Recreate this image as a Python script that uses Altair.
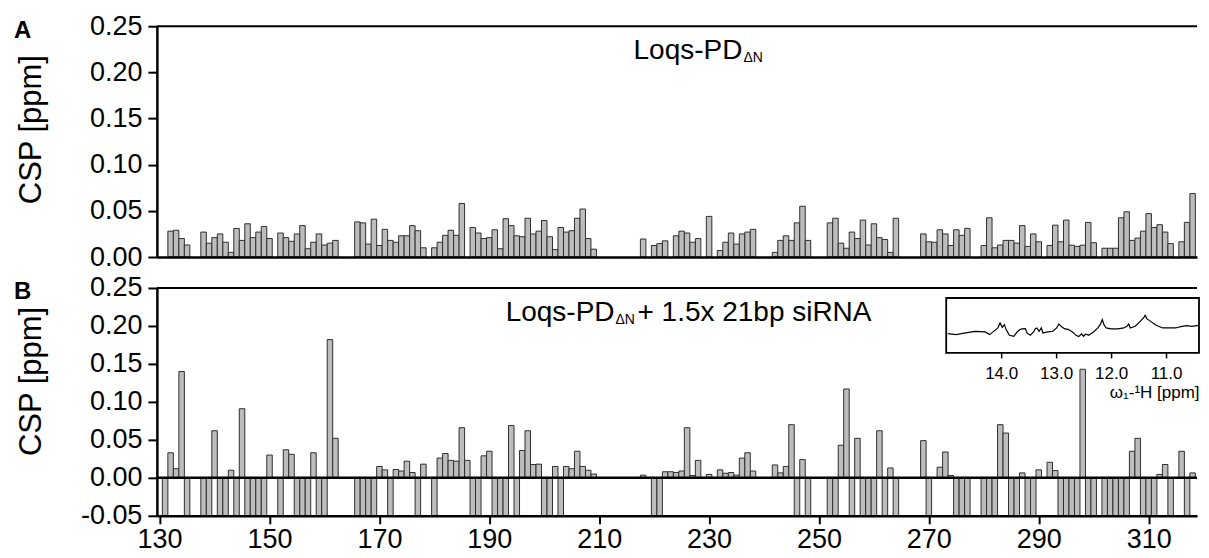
import altair as alt
import pandas as pd

X = -0.05  # residue whose amide peak vanished in the complex (bar drawn to the axis floor)

FIRST_RESIDUE = 131

# Panel A: CSP of free Loqs-PD dN, residues 131..318 (None = not assigned)
CSP_FREE = [
    None, .028, .029, .020, .013, None, None, .027, .015, .021,
    .025, .016, .005, .031, .018, .036, .021, .027, .033, .020,
    None, .026, .021, .017, .025, .034, .009, .016, .025, .013,
    .015, .018, None, None, None, .038, .037, .014, .041, .0125,
    .030, .018, .016, .023, .023, .034, .0285, .010, None, .010,
    .016, .0235, .029, .0235, .058, None, .032, .026, .020, .021,
    .0295, .009, .0415, .034, .023, .022, .042, .025, .028, .0395,
    .022, .008, .032, .027, .0285, .042, .052, .020, .0085, None,
    None, None, None, None, None, None, None, .0195, None, .0125,
    .0145, .0175, None, .023, .028, .026, .016, .020, None, .044,
    None, .007, .016, .026, .014, .025, .027, .030, None, None,
    None, .005, .018, .023, .018, .037, .055, .018, None, None,
    None, .037, .042, .015, .0095, .027, .020, .040, .013, .036,
    .021, .019, .005, .042, None, None, None, None, .025, .0165,
    .016, .0295, .025, .0125, .0295, .0235, .031, None, None, .0125,
    .0425, .010, .013, .018, .018, .015, .034, .0115, .025, .0165,
    None, .0125, .0345, .0165, .040, .0128, .0115, .0128, .0375, .0155,
    None, .0095, .0095, .0095, .0425, .049, .018, .0205, .028, .047,
    .032, .035, .027, .0145, None, .0165, .0375, .0687,
]

# Panel B: CSP with 1.5x 21bp siRNA, residues 131..318
CSP_COMPLEX = [
    X, .033, .012, .140, X, None, None, X, X, .062,
    X, X, .010, X, .091, X, X, X, X, .030,
    None, X, .037, .031, X, X, X, .033, X, X,
    .182, .052, None, None, None, X, X, X, X, .015,
    .0105, X, .011, .009, .022, .007, X, .018, None, X,
    .026, .032, .023, .022, .066, .023, X, X, .029, .035,
    X, X, X, .069, X, .036, .062, .0175, .018, X,
    X, .015, X, .015, .012, .035, .015, .010, .005, None,
    None, None, None, None, None, None, None, .0035, None, X,
    X, .008, .008, .007, .009, .066, .003, .023, None, .0045,
    None, .0105, .006, .007, .0035, .026, .033, .009, None, None,
    None, .017, .0065, .015, .070, X, .024, X, None, None,
    None, X, X, .043, .117, X, .052, X, X, X,
    .062, X, .013, X, None, None, None, None, .049, X,
    None, .014, .034, .003, X, X, X, None, None, X,
    X, X, .070, .059, X, X, .0065, X, X, .0105,
    None, .0205, .0095, X, X, X, X, .143, X, X,
    None, X, X, X, X, X, .035, .052, X, X,
    X, .0045, .0175, X, None, .035, X, .0065,
]

X_TICKS = [130, 150, 170, 190, 210, 230, 250, 270, 290, 310]
X_DOMAIN = [129.5, 318.8]
YA_TICKS = [0.00, 0.05, 0.10, 0.15, 0.20, 0.25]
YB_TICKS = [-0.05, 0.00, 0.05, 0.10, 0.15, 0.20, 0.25]

# Inset: 1D imino spectrum trace
INSET_PPM = [14.97, 14.82, 14.65, 14.47, 14.29, 14.21, 14.12, 14.06, 14.02, 13.98,
             13.94, 13.91, 13.85, 13.77, 13.71, 13.66, 13.62, 13.56, 13.53, 13.47,
             13.41, 13.38, 13.35, 13.31, 13.27, 13.24, 13.15, 13.06, 12.99, 12.95,
             12.91, 12.85, 12.77, 12.68, 12.64, 12.59, 12.54, 12.50, 12.46, 12.41,
             12.32, 12.24, 12.19, 12.16, 12.13, 12.09, 12.00, 11.88, 11.77, 11.71,
             11.68, 11.65, 11.56, 11.47, 11.41, 11.38, 11.35, 11.30, 11.18, 11.06,
             10.95, 10.83, 10.71, 10.62, 10.53, 10.41]
INSET_INT = [58, 55, 60, 65, 63, 55, 67, 75, 90, 77,
             85, 70, 53, 50, 63, 70, 72, 73, 60, 53,
             63, 73, 75, 65, 75, 60, 63, 65, 75, 87,
             80, 73, 70, 60, 53, 49, 57, 50, 57, 53,
             63, 75, 87, 100, 85, 75, 72, 72, 75, 80,
             87, 75, 80, 95, 105, 113, 103, 97, 83, 75,
             75, 75, 80, 82, 80, 83]
INSET_PPM_DOMAIN = [15.0, 10.4]
INSET_INT_DOMAIN = [0, 165]
INSET_TICKS = [14.0, 13.0, 12.0, 11.0]

FONT = "Liberation Sans"
W, HA, HB = 1041, 231, 228
BAR_FILL, BAR_STROKE = "#bdbdbd", "#2e2e2e"


def frame(vals):
    rows = [{"res": FIRST_RESIDUE + i, "v": v} for i, v in enumerate(vals) if v is not None]
    return pd.DataFrame(rows)


xs = alt.Scale(domain=X_DOMAIN, nice=False, zero=False)
ysA = alt.Scale(domain=[YA_TICKS[0], YA_TICKS[-1]], nice=False)
ysB = alt.Scale(domain=[YB_TICKS[0], YB_TICKS[-1]], nice=False)

minus_fix = "replace(replace(datum.label, '\u2212', '-'), '\u2013', '-')"


def yaxis(vals, title_y):
    return alt.Axis(values=vals, format=".2f", labelExpr=minus_fix, title="CSP [ppm]",
                    titleFontSize=31, titleFontWeight="normal", titleX=-116, titleY=title_y,
                    titleBaseline="alphabetic", labelFontSize=27, labelPadding=6,
                    tickSize=9, tickWidth=2, domainWidth=2.5, grid=False, zindex=1,
                    labelColor="black", titleColor="black", domainColor="black",
                    tickColor="black")


xaxisA = alt.Axis(values=X_TICKS, ticks=False, labels=False, title=None, domainWidth=2.5,
                  domainColor="black", zindex=1, grid=False)
xaxisB = alt.Axis(values=X_TICKS, format="d", title=None, labelFontSize=27, labelPadding=3,
                  tickSize=8, tickWidth=2, domainWidth=2.5, zindex=1, grid=False,
                  labelColor="black", domainColor="black", tickColor="black")


def bars(vals, ysc, yax, xax):
    return alt.Chart(frame(vals)).transform_calculate(
        x0="datum.res - 0.5", x1="datum.res + 0.5", base="0"
    ).mark_bar(fill=BAR_FILL, stroke=BAR_STROKE, strokeWidth=1).encode(
        x=alt.X("x0:Q", scale=xs, axis=xax),
        x2="x1:Q",
        y=alt.Y("v:Q", scale=ysc, axis=yax),
        y2="base:Q",
    )


def hrule(val, ysc, yax, width):
    return alt.Chart(pd.DataFrame({"v": [val]})).mark_rule(color="black", strokeWidth=width).encode(
        y=alt.Y("v:Q", scale=ysc, axis=yax)
    )


def label(text, x, y, size, align="left", weight="normal"):
    return alt.Chart(pd.DataFrame({"t": [text]})).mark_text(
        font=FONT, fontSize=size, align=align, baseline="alphabetic", color="black",
        fontWeight=weight
    ).encode(text="t:N", x=alt.value(x), y=alt.value(y))


axA = yaxis(YA_TICKS, 103)
axB = yaxis(YB_TICKS, 93)

panel_a = alt.layer(
    bars(CSP_FREE, ysA, axA, xaxisA),
    hrule(YA_TICKS[-1], ysA, axA, 2),
    label("Loqs-PD", 586, 33, 28, align="right"),
    label("\u0394N", 587, 36, 14),
    label("A", -143, 12, 24, weight="bold"),
).properties(width=W, height=HA)

main_b = alt.layer(
    bars(CSP_COMPLEX, ysB, axB, xaxisB),
    hrule(0.0, ysB, axB, 2.5),
    hrule(YB_TICKS[-1], ysB, axB, 2),
    label("Loqs-PD", 458, 33, 28, align="right"),
    label("\u0394N", 459, 36, 14),
    label("+ 1.5x 21bp siRNA", 481, 33, 28),
    label("B", -143, 11, 24, weight="bold"),
)

inset_xs = alt.Scale(domain=INSET_PPM_DOMAIN, range=[790, 1043], nice=False, zero=False)
inset_ys = alt.Scale(domain=INSET_INT_DOMAIN, range=[65, 10], nice=False, zero=False)
inset_xaxis = alt.Axis(orient="bottom", offset=-(HB - 65), values=INSET_TICKS, format=".1f",
                       tickSize=5, tickWidth=1.5, tickColor="black", domain=False,
                       labelFontSize=17, labelPadding=8, labelColor="black",
                       title="\u03c9\u2081-\u00b9H [ppm]", titleFontSize=17,
                       titleFontWeight="normal", titleAnchor="end", titlePadding=3,
                       titleColor="black", grid=False, zindex=1)

inset_box = alt.Chart(pd.DataFrame({
    "p0": [INSET_PPM_DOMAIN[0]], "p1": [INSET_PPM_DOMAIN[1]],
    "i0": [INSET_INT_DOMAIN[0]], "i1": [INSET_INT_DOMAIN[1]],
})).mark_rect(fill="white", stroke="black", strokeWidth=1.8).encode(
    x=alt.X("p0:Q", scale=inset_xs, axis=inset_xaxis),
    x2="p1:Q",
    y=alt.Y("i0:Q", scale=inset_ys, axis=None),
    y2="i1:Q",
)

inset_line = alt.Chart(pd.DataFrame({"p0": INSET_PPM, "i0": INSET_INT})).mark_line(
    color="black", strokeWidth=1.2
).encode(
    x=alt.X("p0:Q", scale=inset_xs, axis=inset_xaxis),
    y=alt.Y("i0:Q", scale=inset_ys, axis=None),
)

inset_b = alt.layer(inset_box, inset_line)

panel_b = alt.layer(main_b, inset_b).resolve_scale(
    x="independent", y="independent"
).properties(width=W, height=HB)

chart = alt.vconcat(panel_a, panel_b, spacing=31, bounds="flush").properties(
    padding={"left": 6, "top": 4, "right": 0, "bottom": 0}
).configure(font=FONT).configure_view(stroke=None)

chart.save("out.html", embed_options={"renderer": "svg", "actions": False})
